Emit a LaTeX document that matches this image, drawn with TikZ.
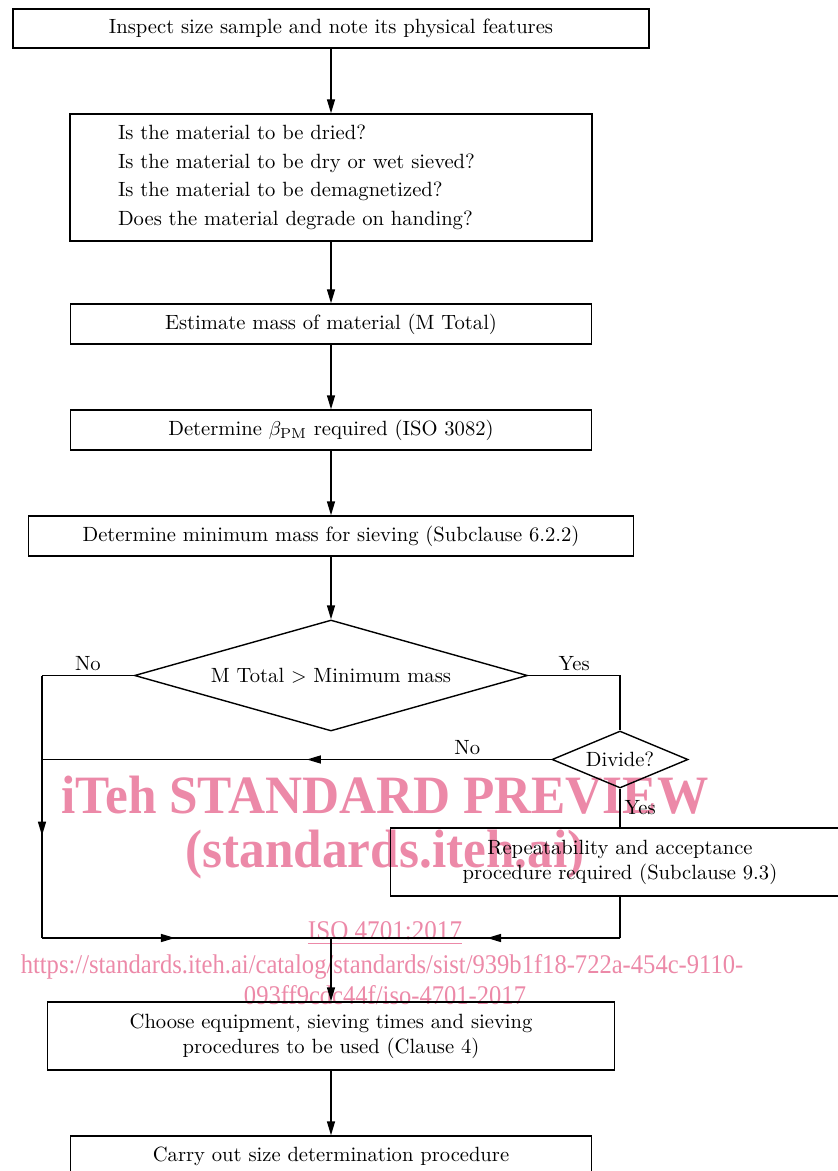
\documentclass[tikz,border=0pt]{standalone}
\usepackage{fontspec}
\usepackage{tikz}
\usetikzlibrary{shapes.geometric,arrows.meta,decorations.markings}
\newfontfamily\wmfont{Liberation Serif}
\definecolor{wmpink}{RGB}{236,137,168}

\tikzset{
  box/.style={draw, line width=0.7pt, inner sep=0pt, align=center, font=\fontsize{10.3}{12.5}\selectfont},
  decision/.style={diamond, draw, line width=0.7pt, inner sep=0pt, font=\fontsize{10.3}{12.5}\selectfont},
  line/.style={draw, line width=0.7pt},
  flow/.style={line, -{Triangle[length=7pt,width=4pt]}},
  midarrow/.style={line, postaction={decorate}, decoration={markings, mark=at position #1 with {\arrow{Triangle[length=7pt,width=4pt]}}}},
  answer/.style={font=\fontsize{10.3}{12.5}\selectfont, inner sep=2pt},
  watermark/.style={text=wmpink, inner sep=0pt, transform shape}
}

\begin{document}
\begin{tikzpicture}[x=0.5pt, y=-0.5pt]
    \useasboundingbox (0,0) rectangle (838,1171);

    % Watermark
    \node[watermark, xscale=0.95, font=\wmfont\bfseries\fontsize{27}{27}\selectfont] (wmtitle) at (385,795) {iTeh STANDARD PREVIEW};
    \node[watermark, xscale=0.95, font=\wmfont\bfseries\fontsize{27}{27}\selectfont] (wmsite) at (385,855) {(standards.iteh.ai)};
    \node[watermark, xscale=0.93, font=\wmfont\fontsize{13.5}{13.5}\selectfont] (wmiso) at (385,933) {\underline{ISO 4701:2017}};
    \node[watermark, xscale=0.91, font=\wmfont\fontsize{13.5}{13.5}\selectfont] (wmurl) at (382,967) {https://standards.iteh.ai/catalog/standards/sist/939b1f18-722a-454c-9110-};
    \node[watermark, xscale=0.91, font=\wmfont\fontsize{13.5}{13.5}\selectfont] (wmurltail) at (385,995) {093ff9cdc44f/iso-4701-2017};

    % Steps
    \node[box, minimum width=318pt, minimum height=19.5pt] (inspect) at (331,28.5) {Inspect size sample and note its physical features};
    \node[box, minimum height=63.5pt, align=left, text width=213pt, inner xsep=24pt, font=\fontsize{10.3}{14.3}\selectfont] (questions) at (331,177.5) {Is the material to be dried?\\
        Is the material to be dry or wet sieved?\\
        Is the material to be demagnetized?\\
        Does the material degrade on handing?};
    \node[box, minimum width=260.5pt, minimum height=20pt] (estimate) at (331,324) {Estimate mass of material (M Total)};
    \node[box, minimum width=260.5pt, minimum height=20pt] (beta) at (331,430) {Determine $\beta_{\mathrm{PM}}$ required (ISO 3082)};
    \node[box, minimum width=302.5pt, minimum height=20pt] (minmass) at (331,536) {Determine minimum mass for sieving (Subclause 6.2.2)};

    % Decisions
    \node[decision, aspect=3.54, minimum width=196.5pt, minimum height=55.5pt] (check) at (331,675.5) {M Total $>$ Minimum mass};
    \node[decision, aspect=2.39, minimum width=68pt, minimum height=28.5pt] (divide) at (620,759.5) {Divide?};
    \node[box, minimum width=229.5pt, minimum height=34pt] (repeat) at (620,862) {Repeatability and acceptance\\procedure required (Subclause 9.3)};

    \node[box, minimum width=283.5pt, minimum height=34pt] (choose) at (331,1036) {Choose equipment, sieving times and sieving\\procedures to be used (Clause 4)};
    \node[box, minimum width=260.5pt, minimum height=20pt] (carry) at (331,1156) {Carry out size determination procedure};

    % Corners
    \coordinate (nocorner) at (42,675.5);
    \coordinate (nojoin) at (42,938);
    \coordinate (join) at (331,938);
    \coordinate (yescorner) at (620,675.5);
    \coordinate (yesjoin) at (620,938);

    % Connectors
    \draw[flow] (inspect.south) -- (questions.north);
    \draw[flow] (questions.south) -- (estimate.north);
    \draw[flow] (estimate.south) -- (beta.north);
    \draw[flow] (beta.south) -- (minmass.north);
    \draw[flow] (minmass.south) -- (check.north);

    \draw[line] (check.west) -- node[answer, above] (lblno) {No} (nocorner);
    \draw[midarrow=0.61] (nocorner) -- (nojoin);
    \draw[midarrow=0.46] (nojoin) -- (join);
    \draw[line] (check.east) -- node[answer, above] (lblyes) {Yes} (yescorner) -- (divide.north);
    \draw[midarrow=0.48] (divide.west) -- node[answer, above, pos=0.165] (lbldivno) {No} (divide.west -| nocorner);
    \draw[line] (divide.south) -- node[answer, right] (lbldivyes) {Yes} (repeat.north);
    \draw[line] (repeat.south) -- (yesjoin);
    \draw[midarrow=0.46] (yesjoin) -- (join);
    \draw[flow] (join) -- (choose.north);
    \draw[flow] (choose.south) -- (carry.north);
\end{tikzpicture}
\end{document}
